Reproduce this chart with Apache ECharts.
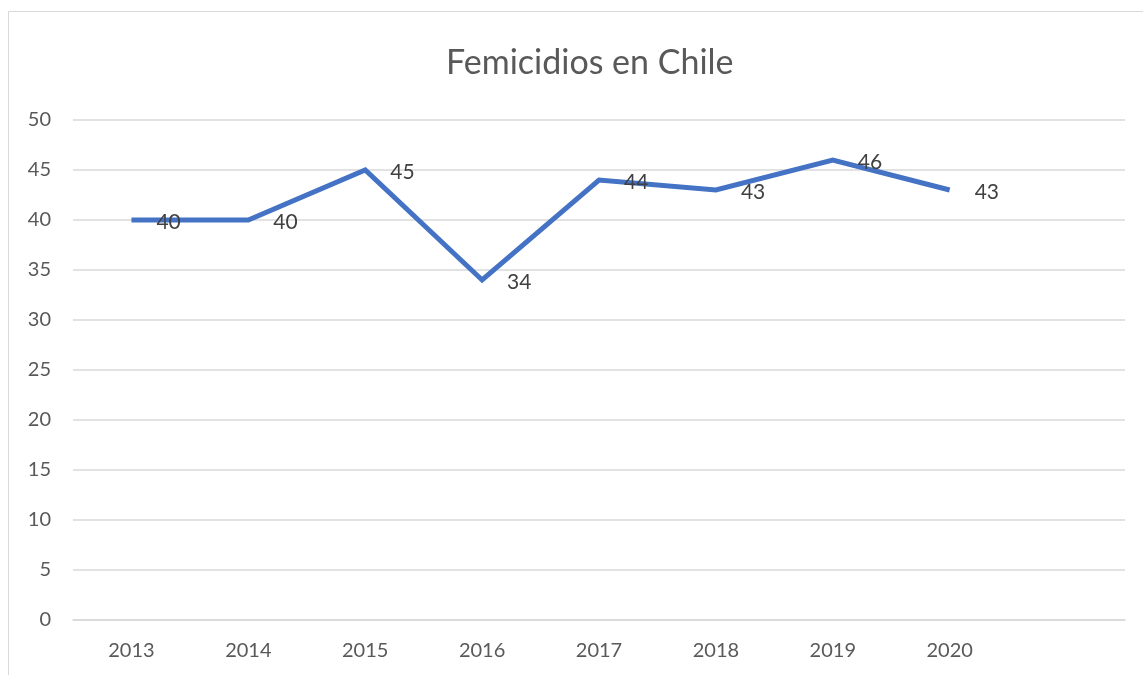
<!DOCTYPE html>
<html>
<head>
<meta charset="UTF-8">
<title>Femicidios en Chile</title>
<script src="https://cdn.jsdelivr.net/npm/echarts@6/dist/echarts.min.js"></script>
<style>
  html, body { margin: 0; padding: 0; background: #fff; }
  #main { width: 1143px; height: 675px; }
</style>
</head>
<body>
<div id="main"></div>
<script>
// datos
var years = ['2013', '2014', '2015', '2016', '2017', '2018', '2019', '2020', ''];
var femicidios = [40, 40, 45, 34, 44, 43, 46, 43];
var yTicks = [0, 5, 10, 15, 20, 25, 30, 35, 40, 45, 50];

var chart = echarts.init(document.getElementById('main'));
var fuente = 'Lato, "Open Sans", sans-serif';

chart.setOption({
    animation: false,
    textStyle: { fontFamily: fuente },
    graphic: [{
        type: 'rect',
        shape: { x: 8.5, y: 11.5, width: 1160, height: 700 },
        style: { fill: 'none', stroke: '#d9d9d9', lineWidth: 1 },
        silent: true
    }],
    title: {
        text: 'Femicidios en Chile',
        left: 441,
        top: 41,
        textStyle: { fontFamily: fuente, fontSize: 34, fontWeight: 'normal', color: '#595959' }
    },
    grid: { left: 73, right: 18, top: 120, bottom: 55, containLabel: false },
    xAxis: {
        type: 'category',
        data: years,
        boundaryGap: true,
        axisLine: { lineStyle: { color: '#d9d9d9', width: 1.5 } },
        axisTick: { show: false },
        axisLabel: { color: '#595959', fontSize: 20, margin: 21, fontFamily: fuente }
    },
    yAxis: {
        type: 'value',
        min: yTicks[0],
        max: yTicks[yTicks.length - 1],
        interval: yTicks[1] - yTicks[0],
        axisLine: { show: false },
        axisTick: { show: false },
        splitLine: { lineStyle: { color: '#d9d9d9', width: 1.5 } },
        axisLabel: { color: '#595959', fontSize: 20, margin: 22, fontFamily: fuente }
    },
    series: [{
        type: 'line',
        data: femicidios,
        showSymbol: true,
        symbol: 'circle',
        symbolSize: 0,
        itemStyle: { color: '#4472C4' },
        lineStyle: { color: '#4472C4', width: 5, join: 'miter' },
        label: {
            show: true,
            position: 'right',
            distance: 25,
            offset: [0, 2],
            color: '#404040',
            fontSize: 21,
            fontFamily: fuente
        }
    }]
});
</script>
</body>
</html>
